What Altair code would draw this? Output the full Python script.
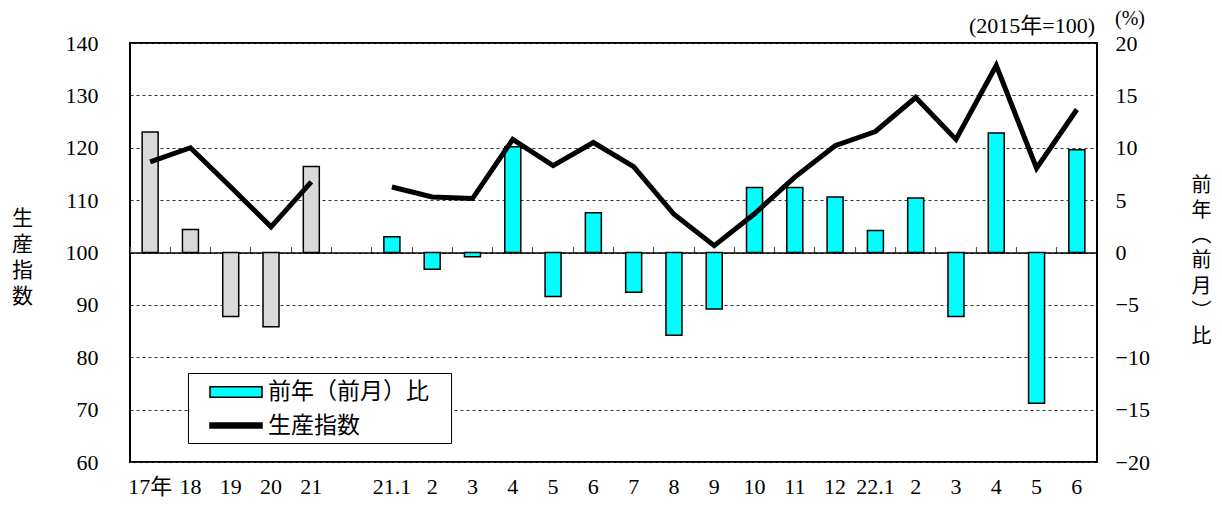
import json
import altair as alt
import pandas as pd

# ---------------- data ----------------
x_labels = ["17年", "18", "19", "20", "21", "",
            "21.1", "2", "3", "4", "5", "6", "7", "8", "9", "10", "11", "12",
            "22.1", "2", "3", "4", "5", "6"]
period_kind = ["年"] * 5 + [""] + ["月"] * 18
line_group = ["year"] * 5 + [""] + ["month"] * 18
production_index = [117.3, 120.0, 112.5, 104.9, 113.5, None,
                    112.5, 110.6, 110.3, 121.6, 116.6, 121.0, 116.4, 107.3, 101.3,
                    107.4, 114.4, 120.4, 123.1, 129.6, 121.6, 135.7, 116.1, 127.3]
change_pct = [11.5, 2.2, -6.1, -7.1, 8.2, None,
              1.5, -1.6, -0.4, 10.1, -4.2, 3.8, -3.8, -7.9, -5.4,
              6.2, 6.2, 5.3, 2.1, 5.2, -6.1, 11.4, -14.4, 9.8]
legend_names = ["前年（前月）比", "生産指数"]
left_title = ["生", "産", "指", "数"]
right_title = ["前", "年", "︵", "前", "月", "︶", "比"]
base_note = "(2015年=100)"
unit_note = "(%)"

# ---------------- table ----------------
df = pd.DataFrame({
    "idx": list(range(len(x_labels))),
    "index": production_index,
    "pct": change_pct,
    "kind": period_kind,
    "grp": line_group,
})
df = df[df["kind"] != ""]

FONT_NUM = "Liberation Serif, Noto Sans CJK JP"
FONT_JP = "Noto Sans CJK JP"

W, H = 967, 419
n_slots = len(x_labels)

x_scale = alt.Scale(domain=list(range(n_slots)), paddingInner=0, paddingOuter=0)
label_expr = json.dumps(x_labels, ensure_ascii=False) + "[datum.value]"

bars = alt.Chart(df).mark_bar(size=16, stroke="black", strokeWidth=1.5).encode(
    x=alt.X("idx:O", scale=x_scale,
            axis=alt.Axis(orient="bottom", labelExpr=label_expr, labelAngle=0,
                          ticks=False, domain=False, labelPadding=14,
                          labelFont=FONT_NUM, labelFontSize=22, labelColor="black",
                          title=None)),
    y=alt.Y("pct:Q", scale=alt.Scale(domain=[-20, 20], nice=False, zero=False),
            axis=alt.Axis(orient="right", values=list(range(-20, 21, 5)), grid=False,
                          ticks=False, domain=False, labelPadding=18,
                          labelFont=FONT_NUM, labelFontSize=22, labelColor="black",
                          title=right_title, titleAngle=0, titleX=104, titleY=142,
                          titleAlign="center", titleBaseline="middle",
                          titleFont=FONT_JP, titleFontSize=20, titleFontWeight="normal",
                          titleLineHeight=25.3, titleColor="black")),
    fill=alt.Fill("kind:N", scale=alt.Scale(domain=["年", "月"], range=["#d9d9d9", "#00ffff"]),
                  legend=None),
)

line = alt.Chart(df).mark_line(color="black", strokeWidth=5, strokeJoin="miter",
                               strokeMiterLimit=4).encode(
    x=alt.X("idx:O", scale=x_scale,
            axis=alt.Axis(orient="top", offset=-H / 2, labels=False, ticks=True,
                          tickSize=6, tickColor="#555555", tickWidth=1.2, bandPosition=0,
                          domain=True, domainColor="black", domainWidth=1.5,
                          grid=False, title=None)),
    y=alt.Y("index:Q", scale=alt.Scale(domain=[60, 140], nice=False, zero=False),
            axis=alt.Axis(orient="left", values=list(range(60, 141, 10)), grid=True,
                          gridDash=[3, 3], gridColor="#333333", gridWidth=1,
                          ticks=False, domain=False, labelPadding=32,
                          labelFont=FONT_NUM, labelFontSize=22, labelColor="black",
                          title=left_title, titleAngle=0, titleX=-108, titleY=175,
                          titleAlign="center", titleBaseline="middle",
                          titleFont=FONT_JP, titleFontSize=21, titleFontWeight="normal",
                          titleLineHeight=26.3, titleColor="black")),
    detail="grp:N",
)

rect_path = "M-2,-0.4H2V0.4H-2Z"
line_path = "M-2,-0.2H2V0.2H-2Z"
legend_def = alt.Legend(title=None, orient="none", legendX=58, legendY=330, padding=5,
                        strokeColor="black", fillColor="white",
                        symbolSize=676, symbolStrokeWidth=1.5, symbolStrokeColor="black",
                        symbolOpacity=1, symbolOffset=29, labelOffset=18,
                        labelFont=FONT_JP, labelFontSize=23, labelColor="black",
                        labelLimit=400, rowPadding=7.5,
                        labelExpr="datum.label + '\u2800'")
legend_df = pd.DataFrame({"series": legend_names})
legend_layer = alt.Chart(legend_df).mark_point(filled=True, opacity=0).encode(
    color=alt.Color("series:N", scale=alt.Scale(domain=legend_names, range=["#00ffff", "black"]),
                    legend=legend_def),
    stroke=alt.Stroke("series:N", scale=alt.Scale(domain=legend_names, range=["black", "black"]),
                      legend=legend_def),
    shape=alt.Shape("series:N", scale=alt.Scale(domain=legend_names, range=[rect_path, line_path]),
                    legend=legend_def),
)

note1 = alt.Chart(pd.DataFrame({"t": [base_note]})).mark_text(
    align="right", baseline="middle", font=FONT_NUM, fontSize=22, color="black"
).encode(x=alt.value(965), y=alt.value(-17), text="t:N")
note2 = alt.Chart(pd.DataFrame({"t": [unit_note]})).mark_text(
    align="center", baseline="middle", font=FONT_NUM, fontSize=20, color="black"
).encode(x=alt.value(1000), y=alt.value(-24), text="t:N")

chart = alt.layer(bars, line, legend_layer, note1, note2).resolve_scale(
    y="independent"
).resolve_axis(
    x="independent"
).properties(
    width=W, height=H,
    autosize=alt.AutoSizeParams(type="none"),
    padding={"left": 122, "top": 35, "right": 117, "bottom": 40},
).configure_view(stroke="black", strokeWidth=2)

chart.save("out.html", embed_options={"renderer": "svg", "actions": False})
